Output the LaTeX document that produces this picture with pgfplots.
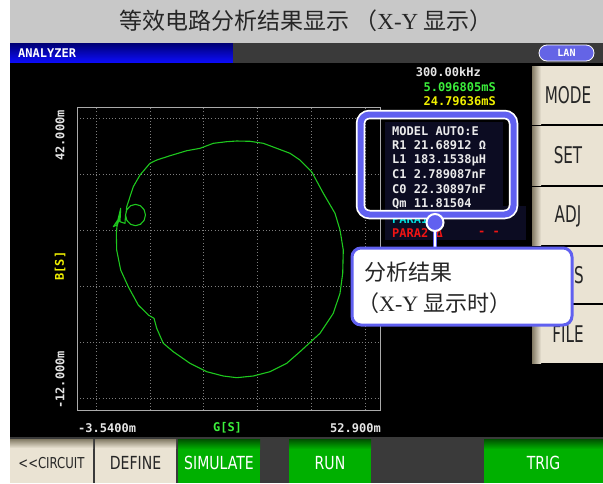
\documentclass[border=0pt]{standalone}
\usepackage{pgfplots}
\pgfplotsset{compat=1.18}
\usepackage{fontspec}
\setmainfont{Liberation Serif}
\newfontfamily\cjk{Noto Sans CJK SC}
\newfontfamily\scr{DejaVu Sans Mono}
\newfontfamily\btn{DejaVu Sans}[FakeStretch=0.78]
\newfontfamily\side{DejaVu Sans}[FakeStretch=0.66]

\definecolor{titlegray}{RGB}{200,200,200}
\definecolor{bardark}{RGB}{58,58,58}
\definecolor{lanblue}{RGB}{100,100,230}
\definecolor{calblue}{RGB}{96,96,240}
\definecolor{beige}{RGB}{234,227,211}
\definecolor{beigedark}{RGB}{130,122,100}
\definecolor{btngreen}{RGB}{0,176,0}
\definecolor{btngreendark}{RGB}{0,80,0}
\definecolor{curvegreen}{RGB}{30,200,30}
\definecolor{scrgreen}{RGB}{60,240,60}
\definecolor{scryellow}{RGB}{240,240,0}
\definecolor{scrred}{RGB}{240,20,20}
\definecolor{scrcyan}{RGB}{0,220,220}
\definecolor{panelnavy}{RGB}{12,12,34}
\definecolor{gridgray}{RGB}{125,125,125}
\definecolor{framegray}{RGB}{170,170,170}

\newcommand\scrtxt{\scr\bfseries\fontsize{12}{12}\selectfont}
\newcommand\btntxt{\btn\fontsize{18}{18}\selectfont}
\newcommand\sidetxt{\side\fontsize{23}{23}\selectfont}

\begin{document}
\begin{tikzpicture}
% ---- screen background (pixel coordinates, y downwards)
\begin{scope}[x=1pt,y=-1pt,every node/.style={inner sep=0pt}]
\path[use as bounding box] (0,0) rectangle (603,483);
\fill[white] (0,0) rectangle (603,483);
\fill[titlegray] (10,0) rectangle (603,43);
\node[text=black!85] at (306,21) {\fontsize{23}{23}\selectfont\cjk 等效电路分析结果显示\hspace{5pt}（{\rmfamily X-Y} 显示）};
\shade[top color=blue!45!black, bottom color=blue!95!white] (10,43) rectangle (233,63);
\fill[bardark] (233,43) rectangle (603,63);
\node[anchor=west,text=white] at (18,53.5) {\scrtxt ANALYZER};
\draw[white,fill=lanblue,line width=0.8pt,rounded corners=8pt] (539,45) rectangle (594,61);
\node[text=white] at (566.5,53) {\scr\bfseries\fontsize{10}{10}\selectfont LAN};
\fill[black] (10,63) rectangle (603,437);
% right side buttons
\foreach \ya/\yb/\lab in {66/124/MODE,126/185/SET,187/245/ADJ,247/303/{},305/363/FILE}{
  \fill[beige] (532,\ya) rectangle (603,\yb);
  \shade[left color=beigedark, right color=beige] (532,\ya) rectangle (541,\yb);
  \node[text=black!85] at (568,{(\ya+\yb)/2}) {\sidetxt \lab};
}
\node[text=black!85] at (579,275) {\sidetxt S};
% bottom buttons
\fill[bardark] (10,437) rectangle (603,483);
\foreach \xa/\xb/\lab in {95/176/DEFINE}{
  \fill[beige] (\xa,439) rectangle (\xb,483);
  \shade[top color=beigedark, bottom color=beige] (\xa,439) rectangle (\xb,448);
  \node[text=black!85] at ({(\xa+\xb)/2},463) {\btntxt \lab};
}
\fill[beige] (10,439) rectangle (93,483);
\shade[top color=beigedark, bottom color=beige] (10,439) rectangle (93,448);
\node[text=black!85] at (51.5,463) {\btn\fontsize{15}{15}\selectfont <{}<CIRCUIT};
\foreach \xa/\xb/\lab in {178/260/SIMULATE,289/371/RUN,484/603/TRIG}{
  \fill[btngreen] (\xa,439) rectangle (\xb,483);
  \shade[top color=btngreendark, bottom color=btngreen] (\xa,439) rectangle (\xb,449);
  \node[text=white] at ({(\xa+\xb)/2},463) {\btntxt \lab};
}
% axis end values and names
\node[rotate=90,anchor=east,text=white!90!black] at (60,110) {\scrtxt 42.000m};
\node[rotate=90,anchor=west,text=white!90!black] at (60,409) {\scrtxt -12.000m};
\node[rotate=90,text=scryellow] at (60,266) {\scrtxt B[S]};
\node[anchor=west,text=white!90!black] at (78,428) {\scrtxt -3.5400m};
\node[text=scrgreen] at (227.5,428) {\scrtxt G[S]};
\node[anchor=east,text=white!90!black] at (381,428) {\scrtxt 52.900m};
% readings
\node[anchor=east,text=white!90!black] at (481,72) {\scrtxt 300.00kHz};
\node[anchor=east,text=scrgreen] at (496,87) {\scrtxt 5.096805mS};
\node[anchor=east,text=scryellow] at (496,101) {\scrtxt 24.79636mS};
\end{scope}

\begin{axis}[
  at={(77pt,-410pt)}, anchor=south west,
  width=304pt, height=303pt, scale only axis,
  xmin=-3.54, xmax=52.9, ymin=-12, ymax=42,
  xtick={0,10,...,50}, ytick={-10,0,...,40},
  xticklabels={}, yticklabels={},
  major tick length=0pt,
  grid=major,
  grid style={gridgray, line width=0.8pt, dash pattern=on 1pt off 2.2pt},
  axis line style={framegray, line width=1pt},
]
\addplot[curvegreen, line width=1.1pt, line join=round] coordinates {
(3.76,19.49) (3.83,16.51) (4.57,12.95) (5.98,9.97) (7.84,6.71) (9.70,4.93)
(10.76,4.34) (11.26,2.56) (12.48,-0.11) (14.34,-1.61) (17.44,-3.68)
(20.54,-5.17) (23.62,-5.94) (26.11,-6.24) (29.19,-5.94) (32.29,-5.17)
(35.39,-3.68) (37.86,-1.61) (41.58,1.67) (44.04,5.23) (45.29,8.80)
(45.79,12.36) (45.90,16.51) (45.29,20.08) (44.36,23.06) (42.19,26.62)
(40.03,30.47) (37.86,32.55) (36.01,33.75) (33.54,34.64) (31.05,35.53)
(28.58,35.89) (26.11,35.94) (24.25,35.82) (21.77,35.53) (19.30,34.64)
(16.83,34.21) (13.73,33.32) (11.26,32.55) (10.01,31.97) (8.16,29.88)
(6.91,27.80) (6.30,26.01) (5.69,24.23) (5.60,23.30)
(5.47,22.75) (5.72,21.80) (6.40,21.10) (7.32,20.85) (8.25,21.10)
(8.92,21.80) (9.17,22.75) (8.92,23.70) (8.25,24.40) (7.32,24.65)
(6.40,24.40) (5.72,23.70) (5.47,22.75)
(5.37,21.27) (4.44,21.56) (4.57,23.95) (3.83,20.97) (3.20,20.67)
(4.44,22.45) (3.89,20.79) (3.76,19.49)
};
\end{axis}

% ---- callouts over the plot
\begin{scope}[x=1pt,y=-1pt,every node/.style={inner sep=0pt}]
\fill[panelnavy] (385,122) rectangle (503,212);
\fill[panelnavy] (385,206) rectangle (526,240);
\node[anchor=west,text=scrcyan] at (392,219) {\scrtxt PARA1};
\node[anchor=west,text=scrred] at (392,233.5) {\scrtxt PARA2 Δ};
\node[anchor=west,text=scrred] at (478,233.5) {\scrtxt - -};
\foreach \yy/\txt in {131/{MODEL AUTO:E},145.6/{R1 21.68912 Ω},160/{L1 183.1538μH},174.5/{C1 2.789087nF},189/{C0 22.30897nF},203.5/{Qm 11.81504}}{
  \node[anchor=west,text=white!92!black] at (392,\yy) {\scrtxt \txt};
}
\draw[white,line width=9.5pt,rounded corners=9pt] (360.5,114.5) rectangle (513.5,214.5);
\draw[calblue,line width=6pt,rounded corners=9pt] (360.5,114.5) rectangle (513.5,214.5);
\draw[calblue,line width=4pt] (435,222) -- (435,250);
\draw[white,line width=1.8pt] (435,222) -- (435,250);
\filldraw[fill=calblue,draw=white,line width=2pt] (435,222.5) circle[radius=8.5pt];
\draw[calblue,fill=white,line width=3pt,rounded corners=9pt] (352,248) rectangle (572,325);
\node[anchor=west,text=black!85] at (364,272) {\fontsize{22}{22}\selectfont\cjk 分析结果};
\node[anchor=west,text=black!85] at (357,303) {\fontsize{22}{22}\selectfont\cjk （{\rmfamily X-Y} 显示时）};
\end{scope}
\end{tikzpicture}
\end{document}
